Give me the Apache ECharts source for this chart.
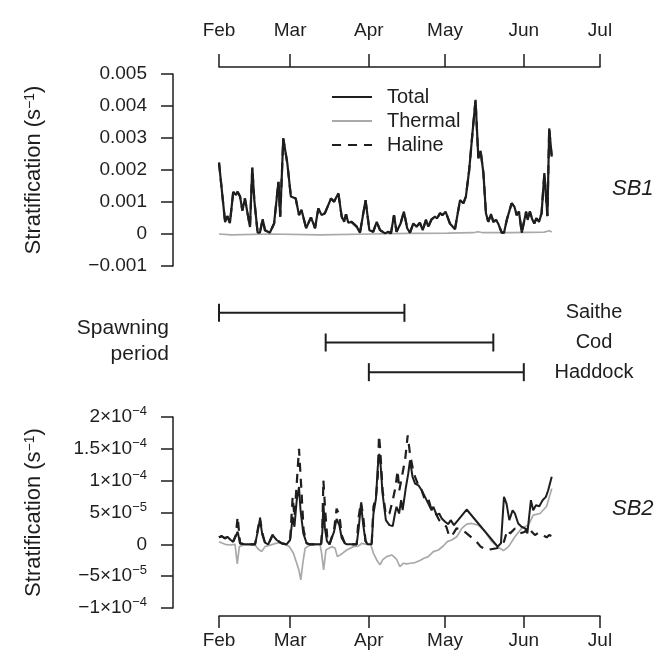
<!DOCTYPE html>
<html>
<head>
<meta charset="utf-8">
<script src="https://cdn.jsdelivr.net/npm/echarts@6/dist/echarts.min.js"></script>
<style>
html,body{margin:0;padding:0;background:#fff;}
#c{width:668px;height:664px;}
</style>
</head>
<body>
<div id="c"></div>
<script>
// ---------- DATA ----------
const startDate = '2014-02-01';
const endDate = '2014-07-01';
const monthTicks = ['Feb', 'Mar', 'Apr', 'May', 'Jun', 'Jul'];

// SB1: [day since Feb 1, value]
const sb1Total = [
  [0,0.00223],[2.4,0.00037],[3.3,0.00056],[4.3,0.00034],[5.6,0.00132],[6.7,0.00122],[7.3,0.00132],[8.3,0.00117],
  [9.2,0.00073],[10.2,0.00111],[10.9,0.00117],[12.2,0.00022],[13.1,0.00208],[13.9,0.00106],[15.2,0.00004],[16.1,0.00004],
  [17.2,0.00046],[18.1,0.00012],[20,0.00004],[21.7,0.00033],[23.4,0.00163],[24.1,0.00054],[25.3,0.00299],[26.9,0.00221],
  [28.3,0.00117],[30.2,0.00111],[31.5,0.00059],[32.5,0.00075],[34.3,0.00018],[36.2,0.00052],[37.8,0.00018],[39.1,0.0008],
  [40.4,0.00059],[41.7,0.00065],[44.1,0.00111],[45.3,0.00101],[47,0.00127],[48.3,0.00054],[49.3,0.00038],[50,0.00062],
  [50.9,0.00035],[52.2,0.00038],[54.2,0.00023],[55.5,0.00004],[57.7,0.00106],[59.2,0.00012],[60.7,0.00007],[62.1,0.00038],
  [63.4,0.00012],[65.4,0.00002],[66.6,0.00007],[67.7,0.00002],[68.9,0.00059],[69.9,0.00007],[71.5,0.00033],[72.8,0.0007],
  [74.1,0.00018],[75.2,0.00004],[76.5,0.00033],[77.8,0.00023],[79.1,0.00035],[80.2,0.00012],[81.5,0.00044],[82.4,0.00023],
  [83.7,0.00046],[85,0.00054],[85.9,0.00049],[87,0.00065],[88,0.00059],[89.2,0.0007],[89.9,0.00073],[90.9,0.00033],
  [92.9,0.00015],[94.9,0.00106],[96.2,0.00096],[97.2,0.00117],[98.5,0.002],[99.9,0.00325],[101,0.00419],[102.1,0.00237],
  [103,0.0026],[104.1,0.0019],[105.1,0.00065],[106,0.00038],[107.1,0.00062],[108,0.00038],[109.1,0.00044],[110,0.00031],
  [111.3,0.00004],[112.2,0.00004],[113.3,0.00044],[115.2,0.00096],[116.3,0.00085],[117.2,0.00059],[118.1,0.0007],[119.2,0.00004],
  [120.9,0.0007],[121.5,0.00044],[122.4,0.0007],[123.3,0.00046],[124.1,0.00033],[125,0.00049],[126,0.00038],[127,0.00065],
  [128.1,0.0019],[129.3,0.00056],[130,0.0033],[131,0.00242]
];
const sb1Thermal = [
  [0,0],[5,-0.00003],[20,0],[40,-0.00003],[60,0],[75,0.00002],[90,0.00003],[100,0.00004],[102,0.00007],[104,0.00004],
  [115,0.00004],[128,0.00006],[130,0.0001],[131,0.00006]
];
const sb1Haline = sb1Total; // coincides with Total in SB1

// SB2
const sb2Total = [
  [0,1.09e-5],[1.05,1.3e-5],[2.4,0.94e-5],[3.3,1.2e-5],[4.6,0.68e-5],[5.6,0.42e-5],[6.6,1.3e-5],[7.35,1.98e-5],[8.3,0.16e-5],
  [10,0],[14.2,0],[15.1,1.72e-5],[16.1,3.9e-5],[17.1,1.46e-5],[18.1,0.26e-5],[19.4,0],[21.1,1.46e-5],[22.7,0.68e-5],
  [24.7,0.16e-5],[26.6,0],[28,0.68e-5],[29,4.32e-5],[29.7,2.76e-5],[30.6,6.93e-5],[31.5,9e-5],[32.1,5.36e-5],[33.2,1.72e-5],
  [34.5,0.16e-5],[35.8,0],[40.2,0],[40.7,2e-5],[41.1,6.5e-5],[41.7,2.5e-5],[42.5,0.5e-5],[43.5,0],[45.3,2e-5],[46.3,4e-5],
  [47.4,3e-5],[48.3,1e-5],[49.5,0.2e-5],[50.3,0],[54.2,0],[55,2.5e-5],[55.9,6.4e-5],[56.8,3e-5],[57.7,0.5e-5],[58.5,0],
  [60.1,0],[60.8,4.8e-5],[61.8,7.2e-5],[62.5,12.1e-5],[63.1,14.2e-5],[63.5,13.2e-5],[64.4,7.97e-5],[65.7,3.8e-5],
  [67.1,3.02e-5],[68.4,2.86e-5],[69.3,4.84e-5],[69.9,5.89e-5],[70.9,4.84e-5],[71.7,6.93e-5],[72.3,5.36e-5],[73.6,9.01e-5],
  [74.5,11.1e-5],[75.2,13.2e-5],[76.2,10.6e-5],[77.2,9.53e-5],[78.5,9.27e-5],[79.8,8.49e-5],[81.1,7.45e-5],[82.4,6.4e-5],
  [83.7,5.36e-5],[84.4,5.89e-5],[85.7,4.58e-5],[86.7,4.84e-5],[87.7,4.06e-5],[89,3.54e-5],[90.3,3.18e-5],[91.2,3.8e-5],
  [92.5,3.02e-5],[97.5,5.47e-5],[109.7,-0.36e-5],[111,0.16e-5],[112.2,7.45e-5],[113.2,6.4e-5],[114.3,3.8e-5],[115.6,5.36e-5],
  [116.5,4.84e-5],[117.8,3.28e-5],[119.1,2.76e-5],[120.5,2.5e-5],[121.4,1.72e-5],[122.8,6.93e-5],[123.7,5.36e-5],
  [124.8,6.15e-5],[126.1,5.99e-5],[127.4,6.93e-5],[128.7,7.45e-5],[129.6,8.49e-5],[131,10.6e-5]
];
const sb2Haline = [
  [0,1.09e-5],[1,1.3e-5],[2.4,0.94e-5],[3.3,1.2e-5],[4.6,0.68e-5],[5.6,0.42e-5],[6.6,1.46e-5],[7.35,4.32e-5],[8.3,0.16e-5],
  [10,0],[14.2,0],[15.1,1.98e-5],[16.1,4.22e-5],[17.1,1.72e-5],[18.1,0.26e-5],[19.4,0],[21.1,1.46e-5],[22.7,0.68e-5],
  [24.7,0.16e-5],[26.6,0],[28,0.68e-5],[29,7.45e-5],[29.7,4.32e-5],[30.6,9.53e-5],[31.5,15e-5],[32.3,9.53e-5],[33.3,2.24e-5],
  [34.5,0.16e-5],[35.8,0],[40.2,0],[40.7,2.76e-5],[41.1,10.05e-5],[41.8,5.36e-5],[42.6,1.2e-5],[43.5,0],[45.3,2.24e-5],
  [46.3,5.62e-5],[47.4,4.58e-5],[48.3,1.46e-5],[49.5,0.2e-5],[50.3,0],[54.2,0],[55,4.32e-5],[55.9,6.67e-5],[56.8,4.32e-5],
  [57.7,0.5e-5],[58.5,0],[60.1,0],[60.8,5.89e-5],[61.8,7.45e-5],[62.5,10.6e-5],[63,17.1e-5],[63.5,14.7e-5],[64.4,8.49e-5],
  [65.7,4.58e-5],[67.1,4.84e-5],[68.4,6.93e-5],[69.5,9.01e-5],[70.3,11.6e-5],[71,8.49e-5],[72,10.6e-5],[73.3,13.4e-5],
  [74.3,17.1e-5],[75.2,14.2e-5],[76.2,12.1e-5],[77.2,10.6e-5],[78.5,9.27e-5],[79.8,8.49e-5],[81.1,6.93e-5],[82.4,7.19e-5],
  [83.7,5.36e-5],[85,5.1e-5],[86.7,3.8e-5],[88.3,3.28e-5],[89.5,2.76e-5],[90.5,1.46e-5],[91.5,1.2e-5],[93.5,2.5e-5],
  [95.5,2.34e-5],[97.5,1.72e-5],[101.4,0.42e-5],[103,-0.36e-5],[105.4,-0.9e-5],[109.3,-0.62e-5],[110.6,-0.36e-5],
  [112.2,0.42e-5],[113.5,2.24e-5],[114.6,1.72e-5],[116.5,2.5e-5],[118.5,1.72e-5],[120.5,1.98e-5],[121.8,2.76e-5],
  [123.1,1.98e-5],[124.4,1.46e-5],[125.7,1.82e-5],[127.4,1.46e-5],[129,1.09e-5],[130,1.46e-5],[131,1.3e-5]
];
const sb2Thermal = [
  [0,0.42e-5],[2.4,0],[4.3,-0.1e-5],[6.3,0],[7.2,-3.07e-5],[8,-0.36e-5],[9.6,-0.1e-5],[14.2,-0.1e-5],[15.5,-0.78e-5],
  [16.8,-1.15e-5],[18.1,-0.36e-5],[19.4,-0.2e-5],[21.1,0],[23.4,0.26e-5],[26,0],[27.7,-0.36e-5],[29.3,-1.41e-5],
  [30.6,-2.97e-5],[31.5,-4.11e-5],[32.2,-5.57e-5],[33,-2.97e-5],[33.9,-0.62e-5],[35.8,-0.1e-5],[39.8,0],[40.4,-1.41e-5],
  [41.2,-4.01e-5],[42.1,-0.89e-5],[44.4,-0.36e-5],[45.7,-0.62e-5],[46.6,-1.93e-5],[48.3,-1.51e-5],[50.3,-0.89e-5],
  [52.9,-0.36e-5],[54.9,-0.26e-5],[56.2,0.16e-5],[58.1,0],[59.7,0],[60.8,-1.41e-5],[62.1,-2.45e-5],[63.4,-3.23e-5],
  [64.4,-2.45e-5],[66,-1.93e-5],[68,-1.67e-5],[69.9,-2.34e-5],[71.2,-3.49e-5],[72.6,-2.97e-5],[73.9,-3.07e-5],
  [75.4,-2.97e-5],[77.2,-2.86e-5],[79.1,-2.55e-5],[80.7,-2.19e-5],[82.4,-1.93e-5],[84.4,-1.15e-5],[86.4,-0.89e-5],
  [88.3,-0.26e-5],[89.9,0.42e-5],[91.6,0.68e-5],[93.6,1.2e-5],[95.6,2.5e-5],[97.5,3.18e-5],[99.5,3.28e-5],[102.1,3.02e-5],
  [104.8,1.98e-5],[107.4,0.42e-5],[110,-0.47e-5],[112,-0.99e-5],[114,-0.36e-5],[116.5,1.2e-5],[119.1,2.5e-5],
  [121.8,3.02e-5],[123.7,4.58e-5],[126.4,4.84e-5],[129,5.99e-5],[131,8.75e-5]
];

// Spawning periods
const species = ['Saithe', 'Cod', 'Haddock'];
const spawnStart = ['2014-02-01', '2014-03-15', '2014-04-01'];
const spawnEnd = ['2014-04-15', '2014-05-20', '2014-06-01'];

// Tick labels
const sb1TickLabels = ['\u22120.001', '0', '0.001', '0.002', '0.003', '0.004', '0.005'];
const sb2Mantissa = ['\u22121', '\u22125', '0', '5', '1', '1.5', '2'];
const sb2Exponent = ['\u22124', '\u22125', '', '\u22125', '\u22124', '\u22124', '\u22124'];

// ---------- CHART ----------
const FONT = 'Liberation Sans, Arial, Helvetica, sans-serif';
const INK = '#1e1e1e';
const GREY = '#a9a9a9';
const base = new Date(2014, 1, 1).getTime();
const DAYMS = 86400000;
const toTs = arr => arr.map(p => [base + p[0] * DAYMS, p[1]]);

const chart = echarts.init(document.getElementById('c'), null, {renderer: 'canvas'});

function timeAxis(gridIndex, position, show, offset, tickLen, margin) {
  return {
    type: 'time', gridIndex, position, show, offset,
    min: startDate, max: endDate,
    splitNumber: 5,
    axisLine: {show: true, onZero: false, lineStyle: {color: INK, width: 1.5}},
    axisTick: {show: true, length: tickLen, lineStyle: {color: INK, width: 1.5}},
    axisLabel: {
      show: true, margin, fontSize: 19, fontFamily: FONT, color: INK,
      showMinLabel: true, showMaxLabel: true, hideOverlap: false,
      formatter: v => monthTicks[new Date(v).getMonth() - 1]
    },
    splitLine: {show: false}
  };
}

const nameRich = {
  n: {fontSize: 22, fontFamily: FONT, color: INK},
  e: {fontSize: 14, fontFamily: FONT, color: INK, verticalAlign: 'top', lineHeight: 14}
};
const yName = '{n|Stratification (s}{e|\u22121}{n|)}';

function lineSeries(name, data, xi, yi, color, width, type, z) {
  return {
    name, type: 'line', xAxisIndex: xi, yAxisIndex: yi, data: toTs(data),
    symbol: 'none', showSymbol: false, color, z,
    lineStyle: {color, width, type},
    silent: true, animation: false
  };
}

const spawnSeries = species.map((s, i) => ({
  name: 'spawn-' + s, type: 'line', xAxisIndex: 1, yAxisIndex: 1,
  data: [[spawnStart[i], s], [spawnEnd[i], s]],
  symbol: 'rect', symbolSize: [2, 18], showSymbol: true,
  itemStyle: {color: INK}, lineStyle: {color: INK, width: 2},
  silent: true, animation: false
}));

const option = {
  backgroundColor: '#fff',
  animation: false,
  textStyle: {fontFamily: FONT},
  grid: [
    {left: 219, top: 74, width: 381, height: 192},
    {left: 219, top: 298, width: 381, height: 89},
    {left: 219, top: 417, width: 381, height: 191}
  ],
  xAxis: [
    timeAxis(0, 'top', true, 7, 13, 27),
    timeAxis(1, 'bottom', false, 0, 0, 0),
    timeAxis(2, 'bottom', true, 8, 12, 15)
  ],
  yAxis: [
    {
      type: 'value', gridIndex: 0, min: -0.001, max: 0.005, interval: 0.001, offset: 46,
      axisLine: {show: true, lineStyle: {color: INK, width: 1.5}},
      axisTick: {show: true, length: 12, lineStyle: {color: INK, width: 1.5}},
      axisLabel: {margin: 26, fontSize: 19, fontFamily: FONT, color: INK,
        formatter: (v, i) => sb1TickLabels[i]},
      splitLine: {show: false},
      name: yName, nameLocation: 'middle', nameGap: 128, nameRotate: 90,
      nameTextStyle: {rich: nameRich}
    },
    {
      type: 'category', gridIndex: 1, data: species, inverse: true, position: 'right',
      axisLine: {show: false}, axisTick: {show: false}, splitLine: {show: false},
      axisLabel: {show: true, margin: -6, align: 'center', fontSize: 20, fontFamily: FONT, color: INK}
    },
    {
      type: 'value', gridIndex: 2, min: -0.0001, max: 0.0002, interval: 0.00005, offset: 46,
      axisLine: {show: true, lineStyle: {color: INK, width: 1.5}},
      axisTick: {show: true, length: 12, lineStyle: {color: INK, width: 1.5}},
      axisLabel: {
        margin: 26, align: 'right',
        formatter: (v, i) => sb2Exponent[i] ? '{m|' + sb2Mantissa[i] + '\u00d710}{e|' + sb2Exponent[i] + '}' : '{m|' + sb2Mantissa[i] + '}',
        rich: {
          m: {fontSize: 19, fontFamily: FONT, color: INK, lineHeight: 24},
          e: {fontSize: 13, fontFamily: FONT, color: INK, verticalAlign: 'top', lineHeight: 13}
        }
      },
      splitLine: {show: false},
      name: yName, nameLocation: 'middle', nameGap: 128, nameRotate: 90,
      nameTextStyle: {rich: nameRich}
    }
  ],
  legend: {
    data: ['Total', 'Thermal', 'Haline'],
    orient: 'vertical', left: 326, top: 81,
    itemWidth: 40, itemHeight: 14, itemGap: 2,
    itemStyle: {opacity: 0},
    textStyle: {fontSize: 20, fontFamily: FONT, color: INK, lineHeight: 22, padding: [0, 0, 0, 10]},
    selectedMode: false
  },
  graphic: [
    {type: 'text', left: 612, top: 178, style: {text: 'SB1', font: 'italic 22px ' + FONT, fill: INK}},
    {type: 'text', left: 612, top: 498, style: {text: 'SB2', font: 'italic 22px ' + FONT, fill: INK}},
    {type: 'text', right: 499, top: 318, style: {text: 'Spawning', font: '21px ' + FONT, fill: INK, textAlign: 'right'}},
    {type: 'text', right: 499, top: 344, style: {text: 'period', font: '21px ' + FONT, fill: INK, textAlign: 'right'}}
  ],
  series: [
    lineSeries('Thermal', sb1Thermal, 0, 0, GREY, 1.7, 'solid', 2),
    lineSeries('Haline', sb1Haline, 0, 0, INK, 2.2, [9, 7], 3),
    lineSeries('Total', sb1Total, 0, 0, INK, 2.2, 'solid', 4),
    lineSeries('Thermal', sb2Thermal, 2, 2, GREY, 1.7, 'solid', 2),
    lineSeries('Haline', sb2Haline, 2, 2, INK, 2.2, [9, 7], 3),
    lineSeries('Total', sb2Total, 2, 2, INK, 2, 'solid', 4)
  ].concat(spawnSeries)
};
chart.setOption(option);
</script>
</body>
</html>
